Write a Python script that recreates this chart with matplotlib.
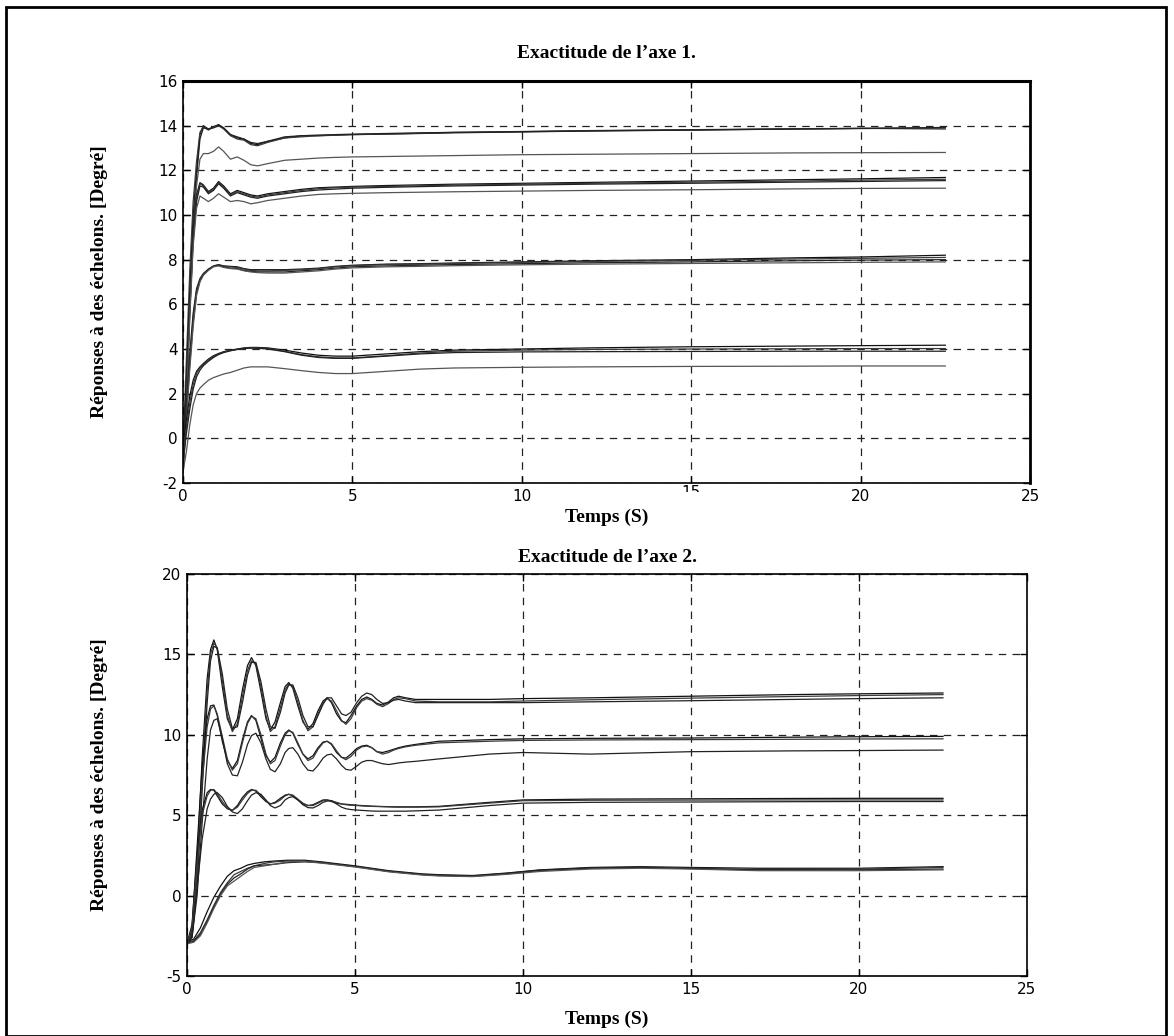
import matplotlib
matplotlib.use("Agg")
import matplotlib.pyplot as plt
from matplotlib.patches import Rectangle
from matplotlib.transforms import Bbox

plt.rcParams["axes.unicode_minus"] = False

# ---------------- Axis 1 : step responses ----------------
t_top = [0, 0.1, 0.2, 0.3, 0.4, 0.5, 0.6, 0.75, 0.9, 1.05, 1.2, 1.4, 1.6, 1.8, 2.0,
         2.2, 2.5, 3.0, 3.5, 4.0, 4.5, 5.0, 6.0, 7.0, 8.0, 10.0, 12.0, 15.0, 18.0,
         20.0, 22.5]

a1 = [-1.0, 2.5, 6.5, 10.0, 12.0, 13.6, 14.0, 13.85, 13.95, 14.05, 13.9, 13.6, 13.45,
      13.4, 13.2, 13.15, 13.3, 13.45, 13.55, 13.55, 13.58, 13.6, 13.62, 13.65, 13.68,
      13.72, 13.76, 13.8, 13.85, 13.88, 13.9]
a2 = [-0.5, 3.5, 7.5, 10.6, 12.4, 13.7, 13.95, 13.8, 13.95, 14.0, 13.85, 13.55, 13.4,
      13.35, 13.15, 13.1, 13.25, 13.45, 13.5, 13.55, 13.57, 13.6, 13.63, 13.66, 13.7,
      13.74, 13.78, 13.82, 13.86, 13.88, 13.85]
a3 = [-1.3, 2.0, 6.0, 9.6, 11.7, 13.4, 13.9, 13.85, 13.9, 14.0, 13.9, 13.6, 13.5,
      13.4, 13.25, 13.2, 13.3, 13.5, 13.55, 13.58, 13.6, 13.62, 13.65, 13.68, 13.7,
      13.73, 13.77, 13.81, 13.85, 13.87, 13.92]
a4 = [-1.5, 1.5, 5.5, 9.2, 11.3, 12.5, 12.75, 12.75, 12.85, 13.05, 12.85, 12.5, 12.6,
      12.45, 12.25, 12.2, 12.3, 12.45, 12.5, 12.55, 12.58, 12.6, 12.62, 12.64, 12.66,
      12.7, 12.72, 12.75, 12.78, 12.79, 12.8]

b1 = [-0.8, 2.5, 6.3, 9.3, 10.9, 11.45, 11.35, 11.05, 11.2, 11.5, 11.3, 10.95, 11.1,
      11.0, 10.9, 10.85, 10.95, 11.05, 11.15, 11.22, 11.25, 11.28, 11.32, 11.35, 11.38,
      11.42, 11.46, 11.52, 11.58, 11.62, 11.68]
b2 = [-1.0, 2.0, 5.9, 9.0, 10.8, 11.4, 11.3, 11.0, 11.15, 11.45, 11.25, 10.9, 11.05,
      10.95, 10.85, 10.8, 10.9, 11.0, 11.1, 11.18, 11.22, 11.25, 11.28, 11.31, 11.34,
      11.38, 11.42, 11.47, 11.52, 11.56, 11.6]
b3 = [-1.2, 1.8, 5.7, 8.8, 10.6, 11.3, 11.25, 10.95, 11.1, 11.4, 11.2, 10.85, 11.0,
      10.9, 10.8, 10.75, 10.85, 10.95, 11.05, 11.12, 11.16, 11.2, 11.24, 11.27, 11.3,
      11.34, 11.38, 11.42, 11.47, 11.5, 11.54]
b4 = [-1.4, 1.5, 5.4, 8.6, 10.3, 10.85, 10.75, 10.6, 10.75, 10.95, 10.8, 10.6, 10.65,
      10.6, 10.5, 10.55, 10.65, 10.75, 10.85, 10.92, 10.95, 10.97, 11.0, 11.02, 11.04,
      11.07, 11.1, 11.13, 11.17, 11.19, 11.2]

c1 = [-1.0, 1.5, 3.8, 5.6, 6.7, 7.15, 7.38, 7.58, 7.72, 7.78, 7.72, 7.7, 7.68, 7.6,
      7.55, 7.55, 7.55, 7.55, 7.58, 7.62, 7.7, 7.75, 7.8, 7.82, 7.85, 7.9, 7.95, 8.0,
      8.08, 8.12, 8.2]
c2 = [-1.2, 1.2, 3.5, 5.4, 6.6, 7.1, 7.35, 7.55, 7.7, 7.76, 7.7, 7.68, 7.65, 7.58,
      7.52, 7.5, 7.5, 7.52, 7.55, 7.6, 7.68, 7.73, 7.78, 7.8, 7.83, 7.88, 7.92, 7.97,
      8.03, 8.06, 8.1]
c3 = [-1.4, 1.0, 3.3, 5.2, 6.5, 7.05, 7.32, 7.55, 7.7, 7.75, 7.68, 7.62, 7.6, 7.52,
      7.48, 7.45, 7.45, 7.45, 7.5, 7.55, 7.62, 7.68, 7.72, 7.75, 7.78, 7.82, 7.86, 7.9,
      7.95, 7.98, 8.0]
c4 = [-1.6, 0.8, 3.1, 5.0, 6.4, 7.0, 7.3, 7.52, 7.68, 7.72, 7.65, 7.6, 7.58, 7.5,
      7.45, 7.42, 7.4, 7.4, 7.45, 7.5, 7.58, 7.63, 7.68, 7.7, 7.73, 7.77, 7.8, 7.83,
      7.86, 7.88, 7.9]

d1 = [-0.4, 0.8, 1.9, 2.6, 3.0, 3.2, 3.35, 3.55, 3.7, 3.8, 3.88, 3.95, 4.0, 4.05,
      4.07, 4.07, 4.05, 3.95, 3.82, 3.72, 3.68, 3.68, 3.78, 3.88, 3.95, 4.0, 4.05, 4.1,
      4.13, 4.15, 4.17]
d2 = [-0.8, 0.5, 1.6, 2.4, 2.9, 3.15, 3.3, 3.5, 3.65, 3.78, 3.86, 3.93, 3.98, 4.02,
      4.05, 4.05, 4.02, 3.9, 3.75, 3.65, 3.6, 3.6, 3.7, 3.82, 3.9, 3.95, 3.98, 4.0,
      4.01, 4.02, 4.02]
d3 = [-1.1, 0.2, 1.3, 2.2, 2.75, 3.05, 3.25, 3.45, 3.62, 3.75, 3.84, 3.92, 3.98, 4.02,
      4.04, 4.03, 4.0, 3.88, 3.72, 3.62, 3.58, 3.58, 3.68, 3.78, 3.84, 3.87, 3.88, 3.89,
      3.9, 3.9, 3.9]
d4 = [-1.5, -0.6, 0.6, 1.5, 2.0, 2.25, 2.4, 2.6, 2.72, 2.8, 2.88, 2.95, 3.05, 3.15,
      3.2, 3.2, 3.2, 3.12, 3.03, 2.95, 2.9, 2.9, 3.0, 3.1, 3.15, 3.18, 3.2, 3.22, 3.23,
      3.24, 3.24]

# ---------------- Axis 2 : step responses ----------------
t_bot = [0, 0.15, 0.3, 0.45, 0.6, 0.7, 0.8, 0.9, 1.05, 1.2, 1.35, 1.5, 1.65, 1.8, 1.92,
         2.05, 2.2, 2.35, 2.48, 2.62, 2.78, 2.92, 3.03, 3.15, 3.3, 3.45, 3.6, 3.75, 3.9,
         4.05, 4.17, 4.3, 4.45, 4.6, 4.73, 4.88, 5.05, 5.2, 5.35, 5.5, 5.65, 5.82, 6.0,
         6.15, 6.3, 6.5, 6.8, 7.5, 9.0, 10.0, 12.0, 15.0, 18.0, 20.0, 22.5]

e1 = [-3.0, -2.2, 2.0, 8.5, 13.5, 15.3, 15.9, 15.3, 13.0, 11.0, 10.3, 11.0, 12.8, 14.3,
      14.8, 14.3, 12.7, 11.0, 10.3, 10.8, 12.0, 13.0, 13.25, 12.9, 11.8, 10.8, 10.35,
      10.7, 11.5, 12.1, 12.3, 12.0, 11.3, 10.85, 10.75, 11.2, 11.8, 12.2, 12.35, 12.2,
      11.95, 11.85, 12.05, 12.3, 12.4, 12.3, 12.2, 12.2, 12.2, 12.25, 12.3, 12.4, 12.5,
      12.55, 12.6]
e2 = [-3.0, -2.4, 1.2, 7.5, 12.8, 15.0, 15.7, 15.4, 13.4, 11.2, 10.2, 10.7, 12.4, 14.0,
      14.6, 14.4, 13.0, 11.2, 10.2, 10.5, 11.7, 12.8, 13.15, 13.0, 12.0, 10.9, 10.25,
      10.5, 11.3, 12.0, 12.25, 12.1, 11.5, 10.9, 10.65, 11.0, 11.7, 12.1, 12.25, 12.15,
      11.9, 11.75, 11.95, 12.2, 12.3, 12.25, 12.1, 12.05, 12.05, 12.1, 12.18, 12.28,
      12.38, 12.44, 12.5]
e3 = [-3.0, -2.6, 0.5, 6.5, 12.0, 14.6, 15.5, 15.4, 13.8, 11.6, 10.4, 10.5, 12.0, 13.7,
      14.5, 14.5, 13.3, 11.6, 10.5, 10.4, 11.4, 12.6, 13.1, 13.1, 12.3, 11.2, 10.5, 10.5,
      11.2, 11.9, 12.3, 12.3, 11.8, 11.3, 11.2, 11.4, 12.0, 12.4, 12.6, 12.5, 12.2,
      11.95, 12.0, 12.15, 12.2, 12.1, 12.0, 12.0, 12.0, 12.0, 12.05, 12.12, 12.2, 12.25,
      12.3]

f1 = [-3.0, -2.0, 3.0, 8.0, 11.0, 11.8, 11.85, 11.2, 9.6, 8.4, 7.9, 8.4, 9.7, 10.8,
      11.2, 10.9, 9.8, 8.7, 8.3, 8.6, 9.5, 10.1, 10.3, 10.1, 9.4, 8.8, 8.5, 8.7, 9.2,
      9.55, 9.6, 9.4, 8.9, 8.6, 8.55, 8.8, 9.15, 9.3, 9.35, 9.2, 8.95, 8.9, 9.0, 9.1,
      9.2, 9.3, 9.4, 9.6, 9.7, 9.75, 9.78, 9.8, 9.85, 9.88, 9.9]
f2 = [-3.0, -2.3, 2.0, 7.0, 10.5, 11.6, 11.8, 11.3, 9.9, 8.5, 7.8, 8.2, 9.5, 10.7,
      11.15, 11.0, 10.0, 8.8, 8.2, 8.4, 9.3, 10.0, 10.25, 10.15, 9.5, 8.8, 8.4, 8.55,
      9.1, 9.5, 9.6, 9.45, 9.0, 8.6, 8.45, 8.65, 9.05, 9.25, 9.3, 9.2, 8.95, 8.8, 8.9,
      9.05, 9.15, 9.25, 9.35, 9.5, 9.6, 9.65, 9.68, 9.7, 9.72, 9.74, 9.75]
f3 = [-3.0, -2.6, 0.0, 4.5, 8.5, 10.3, 10.9, 11.0, 9.8, 8.2, 7.5, 7.45, 8.3, 9.4, 9.95,
      10.1, 9.5, 8.5, 7.85, 7.7, 8.2, 8.9, 9.15, 9.2, 8.8, 8.2, 7.8, 7.75, 8.1, 8.55,
      8.75, 8.8, 8.5, 8.1, 7.85, 7.8, 8.05, 8.3, 8.4, 8.4, 8.3, 8.2, 8.15, 8.2, 8.25,
      8.3, 8.35, 8.5, 8.8, 8.9, 8.8, 8.95, 9.0, 9.02, 9.05]

g1 = [-3.0, -1.8, 2.5, 5.3, 6.4, 6.6, 6.55, 6.2, 5.7, 5.4, 5.3, 5.6, 6.1, 6.45, 6.6,
      6.5, 6.15, 5.85, 5.7, 5.8, 6.05, 6.25, 6.3, 6.2, 5.95, 5.7, 5.6, 5.65, 5.8, 5.95,
      5.95, 5.85, 5.75, 5.7, 5.68, 5.65, 5.62, 5.6, 5.58, 5.56, 5.55, 5.54, 5.53, 5.52,
      5.52, 5.52, 5.52, 5.55, 5.8, 5.95, 6.0, 6.02, 6.04, 6.05, 6.05]
g2 = [-3.0, -2.0, 2.0, 5.0, 6.2, 6.55, 6.6, 6.35, 5.85, 5.45, 5.3, 5.5, 5.95, 6.35,
      6.55, 6.55, 6.25, 5.9, 5.7, 5.75, 5.95, 6.2, 6.3, 6.25, 6.0, 5.75, 5.6, 5.6, 5.75,
      5.9, 5.95, 5.9, 5.8, 5.7, 5.65, 5.62, 5.6, 5.58, 5.56, 5.55, 5.54, 5.53, 5.52,
      5.51, 5.5, 5.5, 5.5, 5.52, 5.75, 5.9, 5.93, 5.94, 5.95, 5.95, 5.95]
g3 = [-3.0, -2.5, 0.5, 3.5, 5.4, 6.0, 6.3, 6.4, 6.1, 5.55, 5.2, 5.1, 5.4, 5.9, 6.25,
      6.4, 6.3, 5.95, 5.6, 5.45, 5.6, 5.95, 6.1, 6.15, 5.95, 5.65, 5.47, 5.45, 5.6, 5.8,
      5.88, 5.9, 5.7, 5.5, 5.4, 5.35, 5.32, 5.3, 5.28, 5.26, 5.25, 5.25, 5.25, 5.25,
      5.25, 5.25, 5.27, 5.32, 5.6, 5.75, 5.8, 5.82, 5.84, 5.85, 5.85]

t_h = [0, 0.2, 0.4, 0.6, 0.8, 1.0, 1.2, 1.4, 1.6, 1.8, 2.0, 2.3, 2.6, 3.0, 3.5, 4.0,
       5.0, 6.0, 7.0, 7.5, 8.5, 9.5, 10.5, 12.0, 13.5, 15.0, 17.0, 20.0, 22.5]
h1 = [-2.9, -2.7, -2.0, -1.0, -0.1, 0.6, 1.2, 1.55, 1.7, 1.9, 2.0, 2.1, 2.15, 2.2, 2.2,
      2.1, 1.85, 1.55, 1.35, 1.3, 1.25, 1.4, 1.6, 1.75, 1.8, 1.75, 1.7, 1.7, 1.8]
h2 = [-2.9, -2.8, -2.3, -1.5, -0.6, 0.2, 0.8, 1.3, 1.5, 1.7, 1.85, 2.0, 2.1, 2.15, 2.15,
      2.05, 1.8, 1.5, 1.3, 1.25, 1.2, 1.35, 1.55, 1.7, 1.75, 1.7, 1.62, 1.65, 1.75]
h3 = [-2.95, -2.85, -2.4, -1.6, -0.7, 0.1, 0.7, 1.1, 1.35, 1.65, 1.85, 1.9, 1.95, 2.05,
      2.1, 2.05, 1.82, 1.52, 1.32, 1.27, 1.22, 1.38, 1.58, 1.72, 1.75, 1.68, 1.6, 1.6,
      1.65]
h4 = [-3.0, -2.9, -2.5, -1.7, -0.8, 0.0, 0.6, 0.9, 1.2, 1.5, 1.75, 1.85, 1.95, 2.1,
      2.12, 2.02, 1.78, 1.48, 1.28, 1.22, 1.18, 1.32, 1.5, 1.65, 1.7, 1.65, 1.55, 1.55,
      1.6]

titles = ["Exactitude de l\u2019axe 1.", "Exactitude de l\u2019axe 2."]
ylabel = "R\u00e9ponses \u00e0 des \u00e9chelons. [Degr\u00e9]"
xlabel = "Temps (S)"
xticks = [0, 5, 10, 15, 20, 25]
yticks_top = [-2, 0, 2, 4, 6, 8, 10, 12, 14, 16]
yticks_bot = [-5, 0, 5, 10, 15, 20]

W, H = 1174, 1036
fig = plt.figure(figsize=(W / 100, H / 100), dpi=100)
fig.patch.set_facecolor("white")

serif = ["Liberation Serif", "DejaVu Serif"]
label_size = 14
tick_size = 11
shades = ["#111111", "#3a3a3a", "#222222", "#555555"]
curve_lw = 0.9


def style_axes(ax, yticks, xlim, ylim):
    ax.set_xlim(*xlim)
    ax.set_ylim(*ylim)
    ax.set_xticks(xticks)
    ax.set_yticks(yticks)
    ax.tick_params(direction="in", length=5, width=1, top=True, right=True,
                   labelsize=tick_size, pad=4, colors="black")
    for lab in ax.get_xticklabels() + ax.get_yticklabels():
        lab.set_family("DejaVu Sans")
    ax.grid(True, color="#222222", linestyle=(0, (6, 5)), linewidth=0.9)
    for s in ax.spines.values():
        s.set_linewidth(1.2)
        s.set_color("black")


# Axis 1
ax1 = fig.add_axes([183 / W, 1 - 483 / H, (1030 - 183) / W, (483 - 81) / H])
groups_top = [[a1, a2, a3, a4], [b1, b2, b3, b4], [c1, c2, c3, c4], [d1, d2, d3, d4]]
for grp in groups_top:
    for i, y in enumerate(grp):
        ax1.plot(t_top, y, color=shades[i % 4], linewidth=curve_lw)
style_axes(ax1, yticks_top, (0, 25), (-2, 16))
ax1.spines["top"].set_linewidth(2.2)
ax1.spines["right"].set_linewidth(2.0)
ax1.set_xticklabels(["0", "5", "10", "", "20", "25"])
ax1.set_title(titles[0], family=serif, fontweight="bold", fontsize=label_size, pad=16.5)
ax1.set_xlabel(xlabel, family=serif, fontweight="bold", fontsize=label_size, labelpad=4)
ax1.set_ylabel(ylabel, family=serif, fontweight="bold", fontsize=label_size, labelpad=36)

# the "15" tick label of axis 1 is partly hidden below the axis line
lab15 = fig.text((182.7 + 15 * 33.9) / W, 1 - 485 / H, "15", ha="center", va="top",
                 family="DejaVu Sans", fontsize=tick_size)
lab15.set_clip_box(Bbox.from_extents(0, H - 492, W, H - 480))
lab15.set_clip_on(True)

# Axis 2
ax2 = fig.add_axes([187 / W, 1 - 976 / H, (1027 - 187) / W, (976 - 574) / H])
groups_bot = [[e1, e2, e3], [f1, f2, f3], [g1, g2, g3]]
for grp in groups_bot:
    for i, y in enumerate(grp):
        ax2.plot(t_bot, y, color=shades[i % 4], linewidth=curve_lw)
for i, y in enumerate([h1, h2, h3, h4]):
    ax2.plot(t_h, y, color=shades[i % 4], linewidth=curve_lw)
style_axes(ax2, yticks_bot, (0, 25), (-5, 20))
ax2.set_title(titles[1], family=serif, fontweight="bold", fontsize=label_size, pad=9)
ax2.set_xlabel(xlabel, family=serif, fontweight="bold", fontsize=label_size, labelpad=10)
ax2.set_ylabel(ylabel, family=serif, fontweight="bold", fontsize=label_size, labelpad=39)

# frame around the whole figure
fig.add_artist(Rectangle((6 / W, 0), (1166 - 6) / W, 1 - 7 / H, transform=fig.transFigure,
                         fill=False, edgecolor="black", linewidth=2.0))

fig.savefig("out.png", dpi=100, facecolor="white")
